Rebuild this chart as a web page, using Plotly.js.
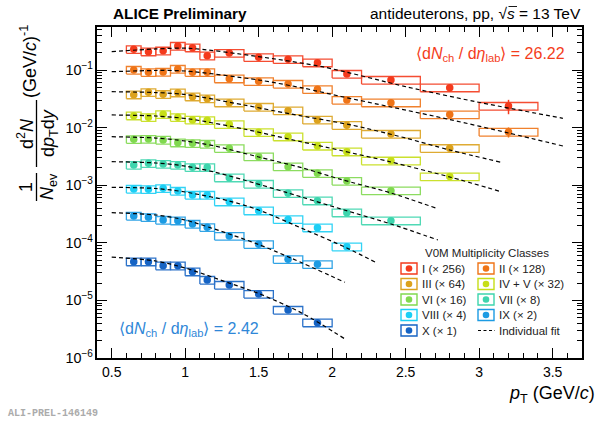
<!DOCTYPE html>
<html><head><meta charset="utf-8">
<script src="https://cdn.plot.ly/plotly-3.0.1.min.js"></script>
<style>html,body{margin:0;padding:0;background:#fff}</style>
</head><body><div id="chart" style="width:598px;height:423px"></div>
<script>
// ---- pT bins ----
const binLow   = [0.6,0.7,0.8,0.9,1.0,1.1,1.2,1.4,1.6,1.8,2.0,2.2,2.6,3.0];
const binHigh  = [0.7,0.8,0.9,1.0,1.1,1.2,1.4,1.6,1.8,2.0,2.2,2.6,3.0,3.4];
const ptCenter = [0.65,0.75,0.85,0.95,1.05,1.15,1.3,1.5,1.7,1.9,2.1,2.4,2.8,3.2];

// ---- series (scaled as plotted) ----
const seriesNames  = ['I (× 256)','II (× 128)','III (× 64)','IV + V (× 32)','VI (× 16)','VII (× 8)','VIII (× 4)','IX (× 2)','X (× 1)'];
const seriesColors = ['#f43a1c','#ef7417','#dca21d','#c6de18','#80d94f','#3dd5ad','#1ccff5','#1c9be3','#1563c4'];

const yI    = [0.229,0.208,0.216,0.261,0.244,0.177,0.197,0.166,0.153,0.134,0.0853,0.0670,0.0493,0.0237];
const yII   = [0.100,0.0912,0.0923,0.104,0.0912,0.0912,0.0706,0.0637,0.0571,0.0462,0.0301,0.0271,0.0168,0.00840];
const yIII  = [0.0373,0.0409,0.0379,0.0404,0.0344,0.0318,0.0271,0.0228,0.0197,0.0136,0.0110,0.00774,0.00438];
const yIVV  = [0.0161,0.0151,0.0170,0.0151,0.0136,0.0134,0.0114,0.00828,0.00695,0.00480,0.00382,0.00266,0.00141];
const yVI   = [0.00627,0.00632,0.00610,0.00547,0.00533,0.00519,0.00437,0.00313,0.00210,0.00161,0.00118,0.000804];
const yVII  = [0.00224,0.00240,0.00233,0.00224,0.00204,0.00204,0.00135,0.00105,0.000723,0.000538,0.000333,0.000242];
const yVIII = [0.000859,0.000848,0.000883,0.000793,0.000676,0.000676,0.000517,0.000361,0.000255,0.000183,0.0000855];
const yIX   = [0.000292,0.000277,0.000249,0.000242,0.000212,0.000186,0.000131,0.0000942,0.0000517,0.0000423];
const yX    = [0.0000470,0.0000470,0.0000400,0.0000400,0.0000315,0.0000226,0.0000185,0.0000129,0.00000681,0.00000410];

// relative statistical uncertainties
const statI  = [0.04,0.04,0.04,0.04,0.04,0.05,0.05,0.06,0.07,0.08,0.10,0.10,0.14,0.28];
const statII = [0.03,0.03,0.03,0.03,0.03,0.03,0.04,0.04,0.05,0.06,0.08,0.08,0.10,0.20];
const statOther = [0.03,0.03,0.03,0.03,0.03,0.03,0.04,0.04,0.05,0.06,0.07,0.08,0.10];
// relative systematic uncertainty (boxes)
const sysRel = 0.15;

// ---- individual fits ----
const fitXI    = [0.5,0.8,1.03,1.49,1.94,2.51,2.97,3.57];
const fitYI    = [0.208,0.232,0.238,0.172,0.113,0.0507,0.0284,0.0145];
const fitXII   = [0.5,0.8,1.0,1.5,1.81,2.06,2.4,2.8,3.2,3.57];
const fitYII   = [0.0934,0.0981,0.0961,0.0670,0.0481,0.0347,0.0228,0.0138,0.00806,0.00480];
const fitXIII  = [0.5,0.8,1.0,1.4,1.72,2.13,2.5,2.8,3.15];
const fitYIII  = [0.0420,0.0406,0.0376,0.0247,0.0172,0.0111,0.00659,0.00408,0.00250];
const fitXIVV  = [0.5,0.8,1.03,1.4,1.72,2.06,2.4,2.8,3.15];
const fitYIVV  = [0.0166,0.0159,0.0141,0.00946,0.00621,0.00400,0.00253,0.00139,0.000771];
const fitXVI   = [0.5,0.8,1.0,1.2,1.5,1.8,2.06,2.4,2.71];
const fitYVI   = [0.00695,0.00659,0.00585,0.00480,0.00309,0.00199,0.00126,0.000733,0.000397];
const fitXVII  = [0.5,0.8,1.0,1.2,1.4,1.7,2.06,2.4,2.72];
const fitYVII  = [0.00256,0.00243,0.00215,0.00169,0.00123,0.000733,0.000386,0.000212,0.000112];
const fitXVIII = [0.5,0.8,1.0,1.3,1.5,1.82,2.1,2.296];
const fitYVIII = [0.000920,0.000877,0.000762,0.000532,0.000371,0.000167,0.0000813,0.0000458];
const fitXIX   = [0.5,0.8,1.0,1.3,1.5,1.72,2.087];
const fitYIX   = [0.000333,0.000304,0.000249,0.000142,0.0000933,0.0000544,0.0000206];
const fitXX    = [0.5,0.8,1.0,1.3,1.5,1.8,2.087];
const fitYX    = [0.0000566,0.0000483,0.0000365,0.0000200,0.0000132,0.00000593,0.00000214];

const seriesY = [yI,yII,yIII,yIVV,yVI,yVII,yVIII,yIX,yX];
const seriesStat = [statI,statII,statOther,statOther,statOther,statOther,statOther,statOther,statOther];
const fitsX = [fitXI,fitXII,fitXIII,fitXIVV,fitXVI,fitXVII,fitXVIII,fitXIX,fitXX];
const fitsY = [fitYI,fitYII,fitYIII,fitYIVV,fitYVI,fitYVII,fitYVIII,fitYIX,fitYX];

const traces = [];
// systematic boxes
seriesY.forEach((ys,k)=>{
  const bx=[], by=[];
  ys.forEach((v,i)=>{
    const lo=v*(1-sysRel), hi=v*(1+sysRel);
    bx.push(binLow[i],binHigh[i],binHigh[i],binLow[i],binLow[i],null);
    by.push(lo,lo,hi,hi,lo,null);
  });
  traces.push({x:bx,y:by,mode:'lines',line:{color:seriesColors[k],width:1.3},opacity:0.9,hoverinfo:'skip',showlegend:false});
});
// points
seriesY.forEach((ys,k)=>{
  const st = seriesStat[k];
  traces.push({x:ptCenter.slice(0,ys.length),y:ys,mode:'markers',name:seriesNames[k],
    marker:{size:7.5,color:seriesColors[k]},
    error_y:{type:'data',array:ys.map((v,i)=>v*st[i]),arrayminus:ys.map((v,i)=>v*st[i]),
      visible:true,width:0,thickness:1.5,color:seriesColors[k]},showlegend:false});
});
// fits
fitsX.forEach((fx,k)=>{
  traces.push({x:fx,y:fitsY[k],mode:'lines',line:{color:'#000',width:1.2,dash:'4px,3px',shape:'spline',smoothing:0.8},hoverinfo:'skip',showlegend:false});
});

// ---- helpers for paper positions (pixel -> paper) ----
const L=97,T=27,W=485,H=331;
const X = px => (px-L)/W;
const Y = py => (T+H-py)/H;
const FONT='Liberation Sans, Arial, Helvetica, sans-serif';

const annotations=[], shapes=[];
function ann(text,px,py,opts){
  annotations.push(Object.assign({xref:'paper',yref:'paper',x:X(px),y:Y(py),text:text,showarrow:false,
    xanchor:'center',yanchor:'middle',font:{family:FONT,size:14,color:'#000'}},opts||{}));
}
// header texts
ann('<b>ALICE Preliminary</b>',111,14,{xanchor:'left',font:{family:FONT,size:15.3,color:'#000'}});
ann('antideuterons, pp, √<i>s</i> = 13 TeV',583,14,{xanchor:'right',font:{family:FONT,size:15.5,color:'#000'}});
shapes.push({type:'line',xref:'paper',yref:'paper',x0:X(508.5),x1:X(517),y0:Y(6.5),y1:Y(6.5),line:{color:'#000',width:0.9}});
ann('<b>ALI-PREL-146149</b>',6,413,{xanchor:'left',font:{family:'Liberation Mono, DejaVu Sans Mono, monospace',size:10,color:'#ababab'}});
// multiplicity annotations
ann('⟨d<i>N</i><sub>ch</sub> / d<i>η</i><sub>lab</sub>⟩ = 26.22',567,54,{xanchor:'right',font:{family:FONT,size:16,color:'#f43d1c'}});
ann('⟨d<i>N</i><sub>ch</sub> / d<i>η</i><sub>lab</sub>⟩ = 2.42',117,329,{xanchor:'left',font:{family:FONT,size:16,color:'#2f87d8'}});
// x title
ann('<i>p</i><sub>T</sub> (GeV/<i>c</i>)',597,394,{xanchor:'right',font:{family:FONT,size:18,color:'#000'}});
// y title pieces
const YT={family:FONT,size:18,color:'#000'};
ann('1',26,187,{textangle:-90,font:YT});
ann('<i>N</i><sub>ev</sub>',48,187,{textangle:-90,font:YT});
ann('d<sup>2</sup><i>N</i>',25,134,{textangle:-90,font:YT});
ann('d<i>p</i><sub>T</sub>d<i>y</i>',49,133,{textangle:-90,font:YT});
ann('(GeV/<i>c</i>)<sup>-1</sup>',28,62,{textangle:-90,font:YT});
shapes.push({type:'line',xref:'paper',yref:'paper',x0:X(36.5),x1:X(36.5),y0:Y(173),y1:Y(201),line:{color:'#000',width:1.3}});
shapes.push({type:'line',xref:'paper',yref:'paper',x0:X(36.5),x1:X(36.5),y0:Y(100),y1:Y(167),line:{color:'#000',width:1.3}});

// ---- manual legend ----
const legColX=[401,478], legRowY=[268.5,284,299.5,315,330.5];
ann('V0M Multiplicity Classes',487,253,{font:{family:FONT,size:11.5,color:'#222'}});
seriesNames.forEach((nm,k)=>{
  const cx=legColX[k%2], cy=legRowY[Math.floor(k/2)];
  shapes.push({type:'rect',xref:'paper',yref:'paper',x0:X(cx),x1:X(cx+16),y0:Y(cy+5.5),y1:Y(cy-5.5),line:{color:seriesColors[k],width:1.4}});
  shapes.push({type:'circle',xref:'paper',yref:'paper',x0:X(cx+8-3.3),x1:X(cx+8+3.3),y0:Y(cy+3.3),y1:Y(cy-3.3),fillcolor:seriesColors[k],line:{width:0}});
  ann(nm,cx+19,cy,{xanchor:'left',font:{family:FONT,size:11.5,color:'#222'}});
});
shapes.push({type:'line',xref:'paper',yref:'paper',x0:X(478),x1:X(495),y0:Y(330.5),y1:Y(330.5),line:{color:'#000',width:1.2,dash:'3px,2.5px'}});
ann('Individual fit',497,330.5,{xanchor:'left',font:{family:FONT,size:11.5,color:'#222'}});

const layout={
  width:598,height:423,margin:{l:L,r:16,t:T,b:65},
  paper_bgcolor:'#fff',plot_bgcolor:'#fff',showlegend:false,
  font:{family:FONT,color:'#000'},
  xaxis:{range:[0.4,3.7],tick0:0.5,dtick:0.5,ticks:'inside',ticklen:10,tickwidth:1,tickcolor:'#000',
    showline:true,linecolor:'#000',linewidth:1.5,mirror:'ticks',showgrid:false,zeroline:false,
    tickfont:{family:FONT,size:14},
    minor:{tick0:0.5,dtick:0.1,ticks:'inside',ticklen:5,tickwidth:1,tickcolor:'#000',showgrid:false}},
  yaxis:{type:'log',range:[-6,-0.2535],dtick:1,exponentformat:'power',ticks:'inside',ticklen:10,tickwidth:1,tickcolor:'#000',
    showline:true,linecolor:'#000',linewidth:1.5,mirror:'ticks',showgrid:false,zeroline:false,
    tickfont:{family:FONT,size:11.5},
    minor:{dtick:'D1',ticks:'inside',ticklen:5,tickwidth:1,tickcolor:'#000',showgrid:false}},
  annotations:annotations,shapes:shapes
};
Plotly.newPlot('chart',traces,layout,{displayModeBar:false});
</script></body></html>
